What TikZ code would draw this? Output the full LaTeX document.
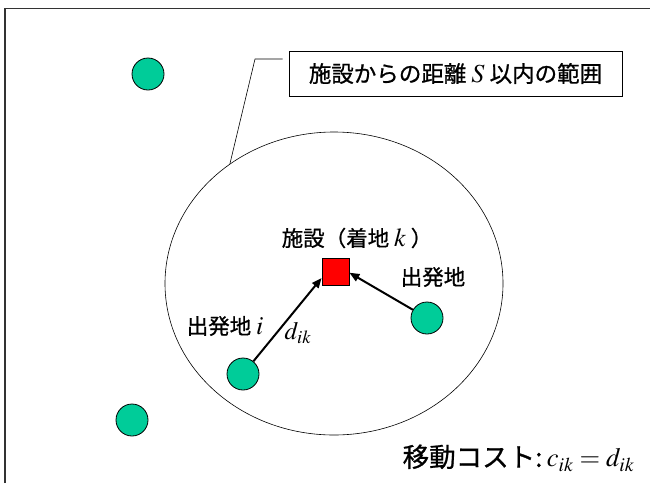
\documentclass[tikz,border=0pt]{standalone}
\usepackage{mathptmx}
\usepackage{fontspec}
\setmainfont[FakeBold=0.8]{Noto Sans CJK JP}
\usetikzlibrary{shapes.geometric,arrows.meta}
\definecolor{dotgreen}{RGB}{0,204,153}
\newcommand{\mvar}[1]{{\fontsize{26}{30}\selectfont$#1$}}
\begin{document}
\begin{tikzpicture}[x=1pt,y=-1pt,
  site/.style={circle,draw=black,line width=0.8pt,fill=dotgreen,minimum size=32pt,inner sep=0pt},
  fac/.style={rectangle,draw=black,line width=0.8pt,fill=red,minimum size=27pt,inner sep=0pt},
  lbl/.style={inner sep=0pt,font=\fontsize{21.5}{25}\selectfont},
  flow/.style={line width=2pt,-{Triangle[length=10pt,width=8pt]}}]
\useasboundingbox (0,0) rectangle (650,483);
\fill[white] (0,0) rectangle (650,483);
\draw[line width=1.5pt,black!80] (5,483) -- (5,8.5) -- (650,8.5);
\node[ellipse,draw,line width=0.6pt,minimum width=338pt,minimum height=303pt,inner sep=0pt] (range) at (334,283.5) {};
\node[draw,line width=0.8pt,minimum width=333pt,minimum height=45pt,inner sep=0pt,font=\fontsize{22.5}{26}\selectfont] (rlabel) at (455.5,73.5) {施設からの距離 \mvar{S} 以内の範囲};
\coordinate (bend) at (255,59);
\draw[line width=0.6pt] ([xshift=-6pt]rlabel.west |- bend) -- (bend) -- (range.131.6);
\node[site] (o1) at (148,74) {};
\node[site] (o2) at (132,420) {};
\node[site] (oi) at (243,374) {};
\node[site] (oj) at (427,318) {};
\node[fac] (k) at (335.5,271.5) {};
\draw[flow] (oi) -- (k.205);
\draw[flow] (oj) -- (k.-5);
\node[lbl] (tk) at (357,238) {施設（着地 \mvar{k} ）};
\node[lbl] (tj) at (433,277) {出発地};
\node[lbl] (ti) at (225,326) {出発地 \mvar{i}};
\node[lbl,font=\fontsize{25}{29}\selectfont] (td) at (298,333) {$d_{ik}$};
\node[lbl,font=\fontsize{26.5}{30}\selectfont] (cost) at (518.5,458) {移動コスト:\,$c_{ik}=d_{ik}$};
\end{tikzpicture}
\end{document}
